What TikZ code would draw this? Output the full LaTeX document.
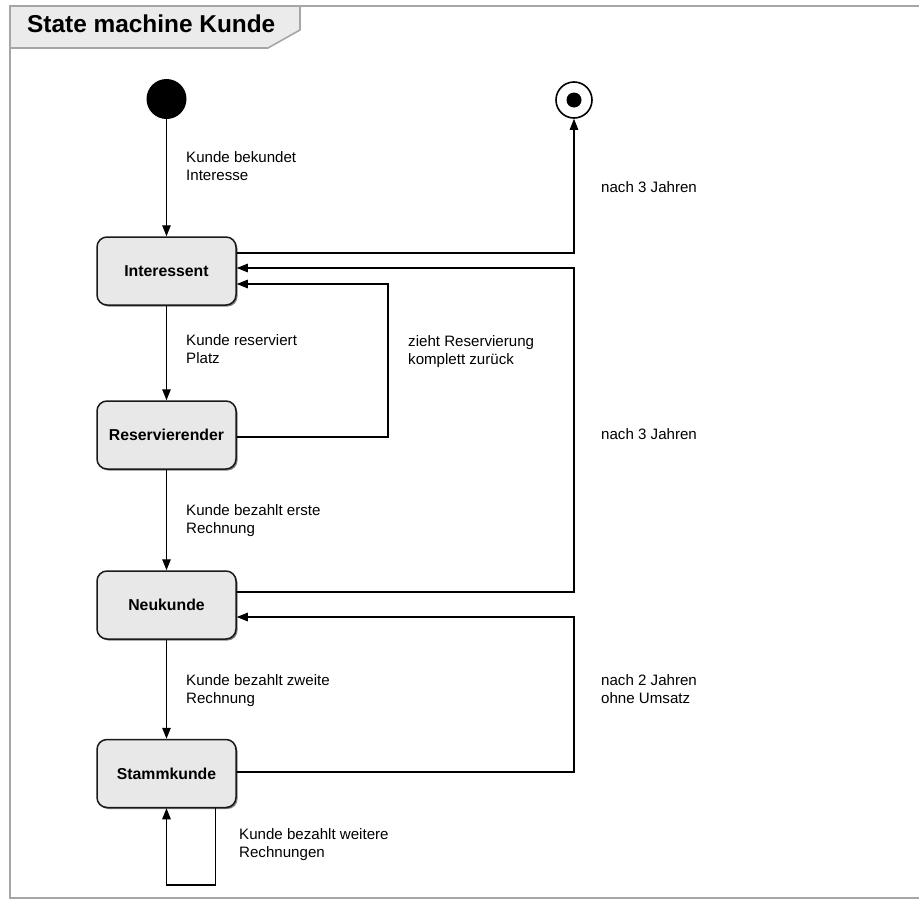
\documentclass[tikz,border=0pt]{standalone}
\usepackage{fontspec}
\setmainfont{Liberation Sans}
\usetikzlibrary{arrows.meta,shadows}
\definecolor{framegray}{HTML}{A6A6A6}
\definecolor{tabfill}{HTML}{EBEBEB}
\definecolor{statefill}{HTML}{E8E8E8}
\begin{document}
\begin{tikzpicture}[x=1pt,y=-1pt,
  statebox/.style={draw=black!90, line width=1.5pt, fill=statefill, rounded corners=10pt,
    minimum width=139pt, minimum height=68pt, inner sep=0pt,
    font=\fontsize{15.8}{18}\selectfont\bfseries,
    drop shadow={shadow xshift=1.5pt, shadow yshift=-1.5pt, opacity=0.5, fill=black}},
  trans/.style={draw=black, line width=1.1pt},
  arr/.style={trans, -{Triangle[length=11pt,width=8.5pt]}},
  lbl/.style={anchor=north west, inner sep=0pt, align=left,
    font=\fontsize{15.1}{18.5}\selectfont},
  frameline/.style={draw=framegray, line width=1.6pt}]
\useasboundingbox (0,0) rectangle (919,900);
\fill[white] (0,0) rectangle (919,900);

% diagram frame and name tab
\draw[frameline] (10,6) -- (930,6);
\draw[frameline] (10,6) -- (10,898) -- (930,898);
\draw[frameline, fill=tabfill] (10,6) -- (300,6) -- (300,30) -- (268,48) -- (10,48) -- cycle;
\node[anchor=west, inner sep=0pt, font=\fontsize{24.4}{28}\selectfont\bfseries] (title) at (27,24) {State machine Kunde};

% pseudo states
\node[circle, fill=black, minimum size=40pt, inner sep=0pt] (init) at (166.5,99) {};
\node[circle, draw=black, line width=1.6pt, fill=white, minimum size=36pt, inner sep=0pt] (fin) at (574,100) {};
\node[circle, fill=black, minimum size=15pt, inner sep=0pt] (findot) at (fin) {};

% states
\node[statebox] (int) at (166.5,271) {Interessent};
\node[statebox] (res) at (166.5,435) {Reservierender};
\node[statebox] (neu) at (166.5,605) {Neukunde};
\node[statebox] (stk) at (166.5,773.5) {Stammkunde};

% bend points
\coordinate (finA) at (574,253);
\coordinate (neuA) at (574,592);
\coordinate (neuB) at (574,268);
\coordinate (resA) at (388,437);
\coordinate (resB) at (388,284);
\coordinate (stkA) at (574,772);
\coordinate (stkB) at (574,617);
\coordinate (loopA) at (215.5,885);
\coordinate (loopB) at (166.5,885);

% transitions
\draw[arr] (init) -- (int);
\draw[arr] (int.east |- finA) -- (finA) -- (fin.south);
\draw[arr] (int) -- (res);
\draw[arr] (res.east |- resA) -- (resA) -- (resB) -- (int.east |- resB);
\draw[arr] (res) -- (neu);
\draw[arr] (neu.east |- neuA) -- (neuA) -- (neuB) -- (int.east |- neuB);
\draw[arr] (neu) -- (stk);
\draw[arr] (stk.east |- stkA) -- (stkA) -- (stkB) -- (neu.east |- stkB);
\draw[arr] (stk.south -| loopA) -- (loopA) -- (loopB) -- (stk.south);

% transition labels
\node[lbl] (t1) at (186,151) {Kunde bekundet\\Interesse};
\node[lbl] (t2) at (601,181) {nach 3 Jahren};
\node[lbl] (t3) at (186,334) {Kunde reserviert\\Platz};
\node[lbl] (t4) at (408,335) {zieht Reservierung\\komplett zurück};
\node[lbl] (t5) at (601,428) {nach 3 Jahren};
\node[lbl] (t6) at (186,504) {Kunde bezahlt erste\\Rechnung};
\node[lbl] (t7) at (186,674) {Kunde bezahlt zweite\\Rechnung};
\node[lbl] (t8) at (601,674) {nach 2 Jahren\\ohne Umsatz};
\node[lbl] (t9) at (239,828) {Kunde bezahlt weitere\\Rechnungen};
\end{tikzpicture}
\end{document}
